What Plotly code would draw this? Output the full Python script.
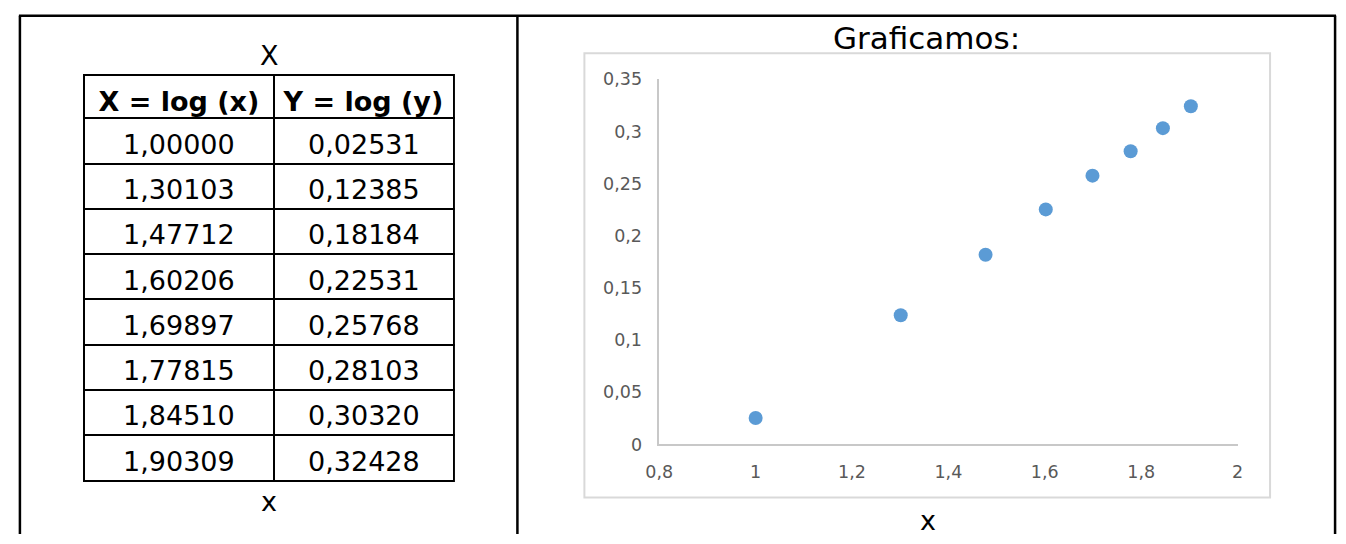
import plotly.graph_objects as go

# Data
col_headers = ["X = log (x)", "Y = log (y)"]
X_log = [1.00000, 1.30103, 1.47712, 1.60206, 1.69897, 1.77815, 1.84510, 1.90309]
Y_log = [0.02531, 0.12385, 0.18184, 0.22531, 0.25768, 0.28103, 0.30320, 0.32428]
x_ticks = [0.8, 1.0, 1.2, 1.4, 1.6, 1.8, 2.0]
y_ticks = [0, 0.05, 0.1, 0.15, 0.2, 0.25, 0.3, 0.35]

W, H = 1346, 544

def px(x):
    return x / W
def py(y):
    return 1 - y / H

NB = "\u00a0"
fmt = lambda v: f"{v:.5f}".replace(".", ",")

TABLE_TOP = 67
TEXT_DROP = 4  # pushes cell text down to sit centred in the rows
col_w = [193, 183]
head_h, cell_h = 43.7, 45.3
tfont = dict(family="DejaVu Sans", size=27, color="black")

header_vals = ["<b>" + h.replace(" ", NB) + "</b>" for h in col_headers]
cell_vals = [[fmt(v) for v in X_log], [fmt(v) for v in Y_log]]

fig = go.Figure()

# grid of the table (lines and white fill)
fig.add_trace(go.Table(
    domain=dict(x=[px(71), px(447)], y=[0, py(TABLE_TOP)]),
    columnwidth=col_w,
    header=dict(values=["", ""], height=head_h,
                line=dict(color="black", width=2), fill=dict(color="white"), font=tfont),
    cells=dict(values=[[""] * len(X_log), [""] * len(Y_log)], height=cell_h,
               line=dict(color="black", width=2), fill=dict(color="white"), font=tfont),
))

# text of the table
fig.add_trace(go.Table(
    domain=dict(x=[px(71), px(447)], y=[0, py(TABLE_TOP + TEXT_DROP)]),
    columnwidth=col_w,
    header=dict(values=header_vals, align="center", height=head_h,
                line=dict(color="rgba(0,0,0,0)", width=0), fill=dict(color="rgba(0,0,0,0)"),
                font=tfont),
    cells=dict(values=cell_vals, align="center", height=cell_h,
               line=dict(color="rgba(0,0,0,0)", width=0), fill=dict(color="rgba(0,0,0,0)"),
               font=tfont),
))

fig.add_trace(go.Scatter(
    x=X_log, y=Y_log, mode="markers",
    marker=dict(color="#5B9BD5", size=14),
    showlegend=False, hoverinfo="skip",
))

fig.update_layout(
    width=W, height=H,
    margin=dict(l=0, r=0, t=0, b=0),
    paper_bgcolor="white", plot_bgcolor="white",
    separators=",.",
    showlegend=False,
    xaxis=dict(
        domain=[px(655), px(1242)], range=[0.8, 2.0],
        tickvals=x_ticks, showgrid=False, zeroline=False,
        showline=True, linecolor="#C8C8C8", linewidth=1.5,
        tickfont=dict(family="DejaVu Sans", size=17.5, color="#595959"),
        ticks="", ticklabelstandoff=11,
    ),
    yaxis=dict(
        domain=[py(451), py(72)], range=[0, 0.35],
        tickvals=y_ticks, showgrid=False, zeroline=False,
        showline=True, linecolor="#C8C8C8", linewidth=1.5,
        tickfont=dict(family="DejaVu Sans", size=17.5, color="#595959"),
        ticks="", ticklabelstandoff=12,
    ),
    font=dict(family="DejaVu Sans"),
)

shapes = [
    # outer frame
    dict(type="line", xref="paper", yref="paper", x0=px(5), x1=px(1342), y0=py(6), y1=py(6),
         line=dict(color="black", width=2.5)),
    dict(type="line", xref="paper", yref="paper", x0=px(6), x1=px(6), y0=py(6), y1=0,
         line=dict(color="black", width=2.5)),
    dict(type="line", xref="paper", yref="paper", x0=px(511), x1=px(511), y0=py(6), y1=0,
         line=dict(color="black", width=2.5)),
    dict(type="line", xref="paper", yref="paper", x0=px(1341), x1=px(1341), y0=py(6), y1=0,
         line=dict(color="black", width=2.5)),
    # chart area border
    dict(type="rect", xref="paper", yref="paper", x0=px(579), x1=px(1275), y0=py(506), y1=py(45),
         line=dict(color="#D9D9D9", width=2), layer="below"),
]
fig.update_layout(shapes=shapes)

annotations = [
    dict(text="X", x=px(259), y=py(47), xref="paper", yref="paper", showarrow=False,
         xanchor="center", yanchor="middle", font=dict(family="DejaVu Sans", size=27, color="black")),
    dict(text="x", x=px(259), y=py(510), xref="paper", yref="paper", showarrow=False,
         xanchor="center", yanchor="middle", font=dict(family="DejaVu Sans", size=27, color="black")),
    dict(text="Graficamos:", x=px(926), y=py(29), xref="paper", yref="paper", showarrow=False,
         xanchor="center", yanchor="middle", font=dict(family="DejaVu Sans", size=31, color="black")),
    dict(text="x", x=px(928), y=py(530), xref="paper", yref="paper", showarrow=False,
         xanchor="center", yanchor="middle", font=dict(family="DejaVu Sans", size=27, color="black")),
]
fig.update_layout(annotations=annotations)

fig.write_html("out.html")
